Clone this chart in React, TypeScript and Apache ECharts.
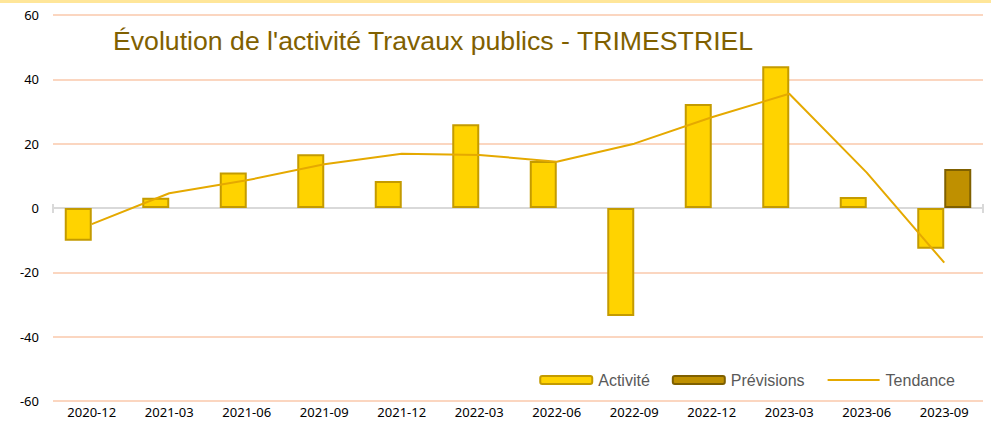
import React, { useEffect, useRef } from "react";
import * as echarts from "echarts";

const categories = [
  "2020-12", "2021-03", "2021-06", "2021-09", "2021-12", "2022-03",
  "2022-06", "2022-09", "2022-12", "2023-03", "2023-06", "2023-09",
];
const activite = [-10.2, 3.2, 11, 16.7, 8.4, 26, 14.6, -33.6, 32.3, 44.1, 3.4, -12.7];
const previsions: (number | null)[] = [null, null, null, null, null, null, null, null, null, null, null, 12.1];
const tendance = [-5, 4.6, 8.6, 13.6, 16.9, 16.5, 14.4, 20, 28.2, 35.5, 11, -17];
const titleText = "Évolution de l'activité Travaux publics - TRIMESTRIEL";

export default function App() {
  const ref = useRef<HTMLDivElement>(null);
  useEffect(() => {
    if (!ref.current) return;
    const chart = echarts.init(ref.current, null, { renderer: "svg" });
    chart.setOption({
      animation: false,
      backgroundColor: "#ffffff",
      title: {
        text: titleText,
        left: 108,
        top: 22,
        textStyle: {
          fontFamily: "Liberation Sans, Arial, sans-serif",
          fontSize: 26.67,
          fontWeight: "normal",
          color: "#806000",
        },
      },
      grid: { left: 53, right: 8, top: 15, bottom: 30, containLabel: false },
      legend: {
        bottom: 38,
        right: 31,
        itemWidth: 52,
        itemHeight: 8,
        itemGap: 22,
        textStyle: {
          fontFamily: "Liberation Sans, Arial, sans-serif",
          fontSize: 16,
          color: "#595959",
          padding: [0, 0, 0, 1],
        },
        data: [
          { name: "Activité" },
          { name: "Prévisions" },
          { name: "Tendance", itemStyle: { opacity: 0 } },
        ],
      },
      xAxis: {
        type: "category",
        data: categories,
        axisLine: { onZero: true, lineStyle: { color: "#d9d9d9", width: 2 } },
        axisTick: { show: false },
        axisLabel: {
          interval: 0,
          margin: 4,
          fontFamily: "Noto Sans, sans-serif",
          fontSize: 13,
          color: "#000000",
          verticalAlign: "top",
        },
        position: "bottom",
      },
      yAxis: {
        type: "value",
        min: -60,
        max: 60,
        interval: 20,
        axisLine: { show: false },
        axisTick: { show: false },
        axisLabel: {
          margin: 14,
          fontFamily: "Noto Sans, sans-serif",
          fontSize: 13,
          color: "#000000",
        },
        splitLine: { lineStyle: { color: "#fbd6c0", width: 2 } },
      },
      graphic: [
        { type: "line", shape: { x1: 53, y1: 204, x2: 53, y2: 213 }, style: { stroke: "#d9d9d9", lineWidth: 2 }, z: 1 },
        { type: "line", shape: { x1: 983, y1: 204, x2: 983, y2: 213 }, style: { stroke: "#d9d9d9", lineWidth: 2 }, z: 1 },
      ],
      series: [
        {
          name: "Activité",
          type: "bar",
          data: activite,
          barWidth: 27,
          barGap: "0%",
          itemStyle: { color: "#ffd300", borderColor: "#c49b00", borderWidth: 2 },
          z: 2,
        },
        {
          name: "Prévisions",
          type: "bar",
          data: previsions,
          barWidth: 27,
          barGap: "0%",
          itemStyle: { color: "#bf9000", borderColor: "#7f6000", borderWidth: 2 },
          z: 2,
        },
        {
          name: "Tendance",
          type: "line",
          data: tendance,
          symbol: "none",
          lineStyle: { color: "#e5a900", width: 2 },
          itemStyle: { color: "#e5a900" },
          z: 3,
        },
      ],
    });
    return () => chart.dispose();
  }, []);
  return (
    <div
      style={{
        position: "fixed",
        left: 0,
        top: 0,
        width: 991,
        height: 431,
        background: "#ffffff",
      }}
    >
      <div style={{ position: "absolute", left: 0, top: 0, width: 991, height: 3, background: "#ffe699", zIndex: 2 }} />
      <div ref={ref} style={{ position: "absolute", left: 0, top: 0, width: 991, height: 431 }} />
    </div>
  );
}
